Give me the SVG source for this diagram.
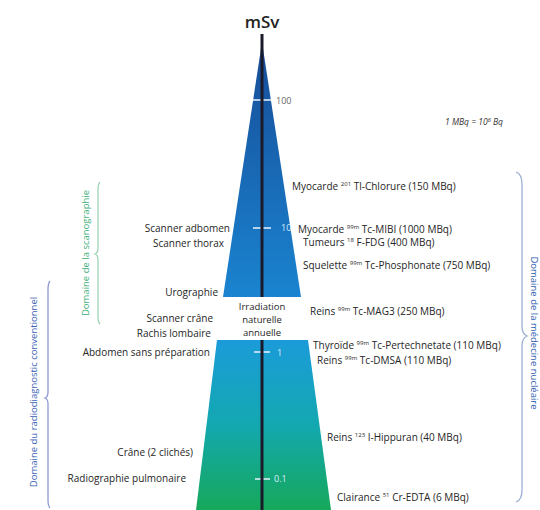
<svg xmlns="http://www.w3.org/2000/svg" width="540" height="510" viewBox="0 0 540 510">
<defs>
<linearGradient id="gTop" x1="0" y1="0" x2="0" y2="1">
<stop offset="0" stop-color="#174c98"/>
<stop offset="1" stop-color="#1a84d0"/>
</linearGradient>
<linearGradient id="gBot" x1="0" y1="0" x2="0" y2="1">
<stop offset="0" stop-color="#1b9bd9"/>
<stop offset="0.5" stop-color="#13a8b0"/>
<stop offset="1" stop-color="#16a85a"/>
</linearGradient>
<style>
text{font-family:"Open Sans","Liberation Sans",sans-serif;}
.lbl{font-size:10px;fill:#262626;}
.l{text-anchor:end;}
.sup{font-size:6px;}
.scale{font-size:9px;}
.tick{stroke:#dcecf8;stroke-width:1.6;}
.axis{stroke:#1a1a2a;stroke-width:3;}
.dom{font-size:9.5px;text-anchor:middle;}
</style>
</defs>
<rect width="540" height="510" fill="#ffffff"/>

<g id="pyramid">
<polygon points="262,42 301,297 223,297" fill="url(#gTop)"/>
<polygon points="217,340 308,340 331,510 196,510" fill="url(#gBot)"/>
<line class="tick" x1="253" y1="100" x2="271" y2="100"/>
<line class="tick" x1="253" y1="228" x2="271" y2="228"/>
<line class="tick" x1="254" y1="352" x2="270" y2="352"/>
<line class="tick" x1="255" y1="479" x2="270" y2="479"/>
<line class="axis" x1="262" y1="34" x2="262" y2="297"/>
<line class="axis" x1="262" y1="340" x2="262" y2="510"/>
<text x="262" y="28" font-size="17" font-weight="600" fill="#222" text-anchor="middle">mSv</text>
<text class="scale" x="276" y="103.5" fill="#666">100</text>
<text class="scale" x="281" y="231" fill="#d8ecf8">10</text>
<text class="scale" x="277" y="355.5" fill="#d8ecf8">1</text>
<text class="scale" x="274" y="482" fill="#d8ecf8">0.1</text>
</g>

<g id="irradiation" class="lbl" font-size="9.5">
<text x="262" y="310" text-anchor="middle" font-size="9.5">Irradiation</text>
<text x="262" y="323" text-anchor="middle" font-size="9.5">naturelle</text>
<text x="262" y="336" text-anchor="middle" font-size="9.5">annuelle</text>
</g>

<g id="unit">
<text x="445" y="125" font-size="8.5" font-style="italic" fill="#333">1 MBq = 10<tspan font-size="5.5" dy="-3.5">6</tspan><tspan dy="3.5"> Bq</tspan></text>
</g>

<g id="left-labels" class="lbl l">
<text x="230" y="231.5">Scanner adbomen</text>
<text x="224" y="246.5">Scanner thorax</text>
<text x="218" y="296">Urographie</text>
<text x="213" y="321.5">Scanner crâne</text>
<text x="211" y="336.5">Rachis lombaire</text>
<text x="210" y="356">Abdomen sans préparation</text>
<text x="193" y="456">Crâne (2 clichés)</text>
<text x="186" y="481.5">Radiographie pulmonaire</text>
</g>

<g id="right-labels" class="lbl">
<text x="292" y="190">Myocarde <tspan class="sup" dy="-4">201</tspan><tspan dy="4"> Tl-Chlorure (150 MBq)</tspan></text>
<text x="298" y="232.5">Myocarde <tspan class="sup" dy="-4">99m</tspan><tspan dy="4"> Tc-MIBI (1000 MBq)</tspan></text>
<text x="303" y="246">Tumeurs <tspan class="sup" dy="-4">18</tspan><tspan dy="4"> F-FDG (400 MBq)</tspan></text>
<text x="303" y="268.5">Squelette <tspan class="sup" dy="-4">99m</tspan><tspan dy="4"> Tc-Phosphonate (750 MBq)</tspan></text>
<text x="310" y="314.5">Reins <tspan class="sup" dy="-4">99m</tspan><tspan dy="4"> Tc-MAG3 (250 MBq)</tspan></text>
<text x="313" y="349">Thyroïde <tspan class="sup" dy="-4">99m</tspan><tspan dy="4"> Tc-Pertechnetate (110 MBq)</tspan></text>
<text x="317" y="364">Reins <tspan class="sup" dy="-4">99m</tspan><tspan dy="4"> Tc-DMSA (110 MBq)</tspan></text>
<text x="327" y="440.5">Reins <tspan class="sup" dy="-4">123</tspan><tspan dy="4"> I-Hippuran (40 MBq)</tspan></text>
<text x="337" y="500.5">Clairance <tspan class="sup" dy="-4">51</tspan><tspan dy="4"> Cr-EDTA (6 MBq)</tspan></text>
</g>

<g id="connectors" fill="none" stroke-width="1.3">
<path d="M516,172 Q522,174 522,184 L522,326 Q522,334 527,336 Q522,338 522,346 L522,490 Q522,500 516,502" stroke="#9ab0d4"/>
<path d="M50,281 Q48,283 48,290 L48,392 Q48,397 45,398 Q48,399 48,404 L48,500 Q48,506 50,508" stroke="#8e9ad8"/>
<path d="M100,182 Q98,184 98,190 L98,248 Q98,253 95,254 Q98,255 98,260 L98,318 Q98,322 100,324" stroke="#9fd4b4"/>
</g>

<g id="domains">
<text class="dom" transform="translate(531,333) rotate(90)" fill="#2d5db0">Domaine de la médecine nucléaire</text>
<text class="dom" transform="translate(37,392) rotate(-90)" fill="#3a5fb5">Domaine du radiodiagnostic conventionnel</text>
<text class="dom" transform="translate(89,253) rotate(-90)" fill="#3db07a">Domaine de la scanographie</text>
</g>
</svg>
